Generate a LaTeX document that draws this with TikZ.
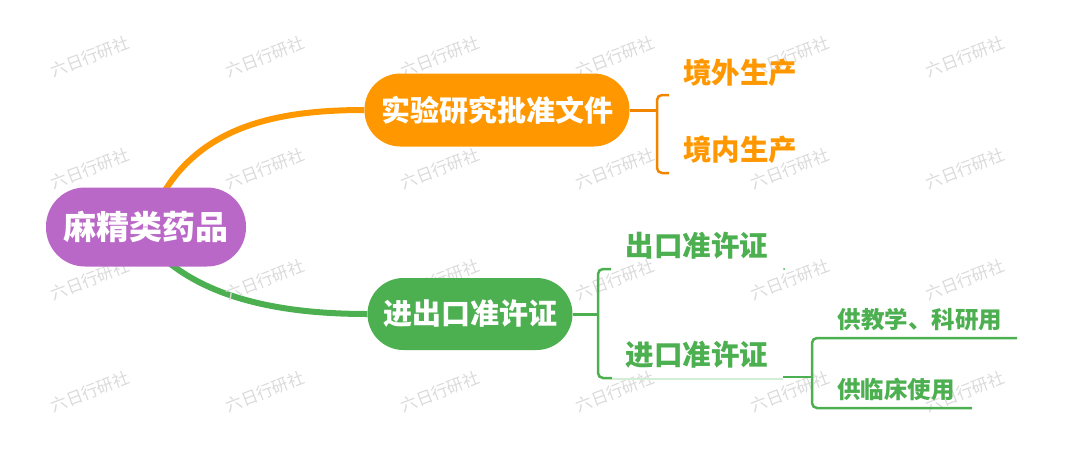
\documentclass[tikz,border=0pt]{standalone}
\usepackage{fontspec}
\usepackage{xcolor}
\usepackage{tikz}
\newfontfamily\cjk{Noto Sans CJK SC}
\usetikzlibrary{positioning,calc,backgrounds}

\definecolor{mapPurple}{HTML}{BA68C8}
\definecolor{mapOrange}{HTML}{FF9800}
\definecolor{mapOrangeDk}{HTML}{F28500}
\definecolor{mapGreen}{HTML}{4CAF50}
\definecolor{mapGreenLt}{HTML}{D4EDD5}
\definecolor{markGray}{HTML}{DADADA}

\begin{document}
\begin{tikzpicture}[x=1pt, y=-1pt,
    topic/.style={rounded corners=36pt, text=white, inner sep=0pt, minimum height=73pt,
        font=\cjk\bfseries\fontsize{29}{29}\selectfont},
    leaf/.style={inner sep=0pt, font=\cjk\bfseries\fontsize{28.5}{28.5}\selectfont},
    subleaf/.style={inner sep=0pt, text=mapGreen, font=\cjk\bfseries\fontsize{23.5}{23.5}\selectfont},
    wmark/.style={text=markGray, rotate=21, inner sep=0pt, font=\cjk\fontsize{16.5}{16.5}\selectfont}]
    \useasboundingbox (0,0) rectangle (1068,458);

    % Watermarks
    \foreach \x in {90,265,...,965}
        \foreach \y in {57,169,280,392}
            \node[wmark] at (\x,\y) {六日行研社};

    % Topics
    \node[topic, fill=mapPurple, minimum width=200pt, minimum height=79pt, rounded corners=39pt,
        font=\cjk\bfseries\fontsize{33}{33}\selectfont] (root) at (146,227) {麻精类药品};
    \node[topic, fill=mapOrange, minimum width=265pt] (trial) at (497,110) {实验研究批准文件};
    \node[topic, fill=mapGreen, minimum width=205pt, minimum height=72pt] (permit) at (470,314) {进出口准许证};

    % Main branches
    \begin{scope}[on background layer]
        \draw[mapOrange, line width=6pt] (164,192) .. controls (205,125) and (280,110) .. (trial.west);
        \draw[mapGreen, line width=6pt] (168,262) .. controls (215,300) and (285,314) .. (permit.west);
    \end{scope}

    % Orange leaves
    \node[leaf, text=mapOrange] (abroad) at (740,73) {境外生产};
    \node[leaf, text=mapOrange] (domestic) at (740,150) {境内生产};
    \coordinate (ojoin) at (657,110);
    \draw[mapOrangeDk, line width=3pt] (trial.east) -- (ojoin);
    \draw[mapOrangeDk, line width=2.5pt, rounded corners=5pt] (669,95) -- (657,95) -- (657,173) -- (669,173);

    % Green leaves
    \node[leaf, text=mapGreen] (export) at (697,246) {出口准许证};
    \node[leaf, text=mapGreen] (import) at (697,355) {进口准许证};
    \coordinate (gjoin) at (598,314);
    \draw[mapGreen, line width=3pt] (permit.east) -- (gjoin);
    \draw[mapGreen, line width=2.5pt, rounded corners=5pt] (611,269) -- (598,269) -- (598,378) -- (612,378);
    \draw[mapGreenLt, line width=1.5pt] (612,379) -- (783,379);
    \fill[mapGreen] (784,269) circle (1pt);

    % Import sub-leaves
    \node[subleaf] (teach) at (920,320) {供教学、科研用};
    \node[subleaf] (clinic) at (896,389) {供临床使用};
    \coordinate (ijoin) at (812,377);
    \draw[mapGreen, line width=2.5pt] (783,377) -- (ijoin);
    \draw[mapGreen, line width=2.5pt, rounded corners=5pt] (1017,338) -- (812,338) -- (812,408) -- (972,408);
\end{tikzpicture}
\end{document}
